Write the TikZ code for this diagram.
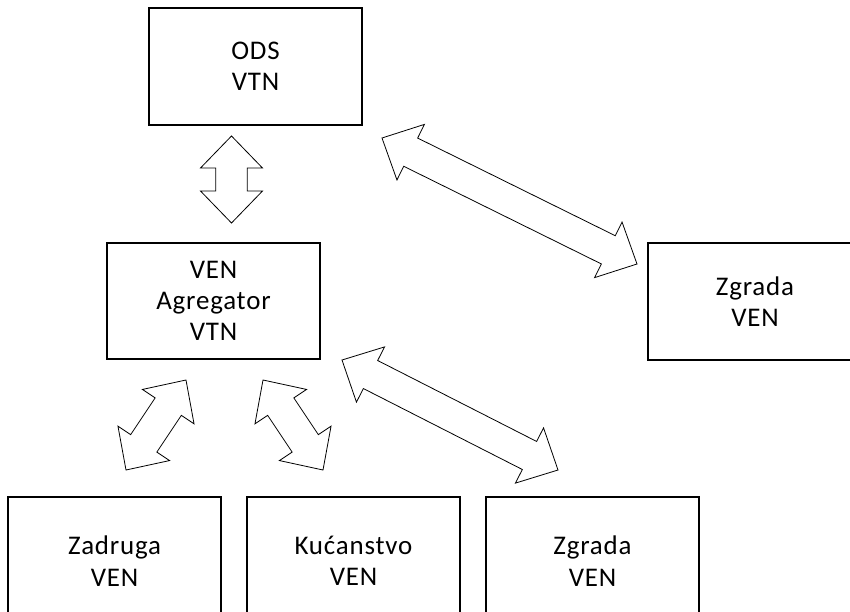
\documentclass[tikz,border=0pt]{standalone}
\usepackage{fontspec}
\setmainfont{Carlito}[LetterSpace=3]
\usetikzlibrary{calc}
\tikzset{
  box/.style={draw=black, line width=0.8pt, fill=white, align=center,
    minimum width=159.75pt, minimum height=87.75pt, inner sep=0pt,
    font=\fontsize{20.2}{23.5}\selectfont},
  blk/.style={draw=black, line width=0.6pt, line join=miter, fill=white}
}
\newcommand{\dblarrow}[2]{%
  \coordinate (ap) at ($(#1)!24pt!(#2)$);
  \coordinate (aq) at ($(#2)!24pt!(#1)$);
  \draw[blk] (#1) -- ($(ap)!23.25pt!90:(#2)$) -- ($(ap)!11.8pt!90:(#2)$)
    -- ($(aq)!11.8pt!-90:(#1)$) -- ($(aq)!23.25pt!-90:(#1)$) -- (#2)
    -- ($(aq)!23.25pt!90:(#1)$) -- ($(aq)!11.8pt!90:(#1)$)
    -- ($(ap)!11.8pt!-90:(#2)$) -- ($(ap)!23.25pt!-90:(#2)$) -- cycle;}
\begin{document}
\begin{tikzpicture}[x=0.75pt, y=-0.75pt]
  \clip (0,0) rectangle (850,611);
  \fill[white] (0,0) rectangle (850,611);
  % boxes
  \node[box] (ods) at (255.5,66.5) {ODS\\VTN};
  \node[box, minimum height=87pt] (agg) at (213.5,301) {VEN\\Agregator\\VTN};
  \node[box, minimum width=160.5pt] (zr) at (755,301.5) {Zgrada\\VEN};
  \node[box, minimum height=96pt] (zad) at (114.5,561) {Zadruga\\VEN};
  \node[box, minimum height=96pt] (kuc) at (353.5,561) {Kućanstvo\\VEN};
  \node[box, minimum height=96pt] (zb) at (592.5,561) {Zgrada\\VEN};
  % arrow end points
  \coordinate (a1s) at (231.5,136);
  \coordinate (a1e) at (231.5,223);
  \coordinate (a2s) at (382,138);
  \coordinate (a2e) at (637,264);
  \coordinate (a3s) at (186,380);
  \coordinate (a3e) at (126,470);
  \coordinate (a4s) at (263,380);
  \coordinate (a4e) at (323,470);
  \coordinate (a5s) at (342,360);
  \coordinate (a5e) at (558,470);
  \dblarrow{a1s}{a1e}
  \dblarrow{a2s}{a2e}
  \dblarrow{a3s}{a3e}
  \dblarrow{a4s}{a4e}
  \dblarrow{a5s}{a5e}
\end{tikzpicture}
\end{document}
